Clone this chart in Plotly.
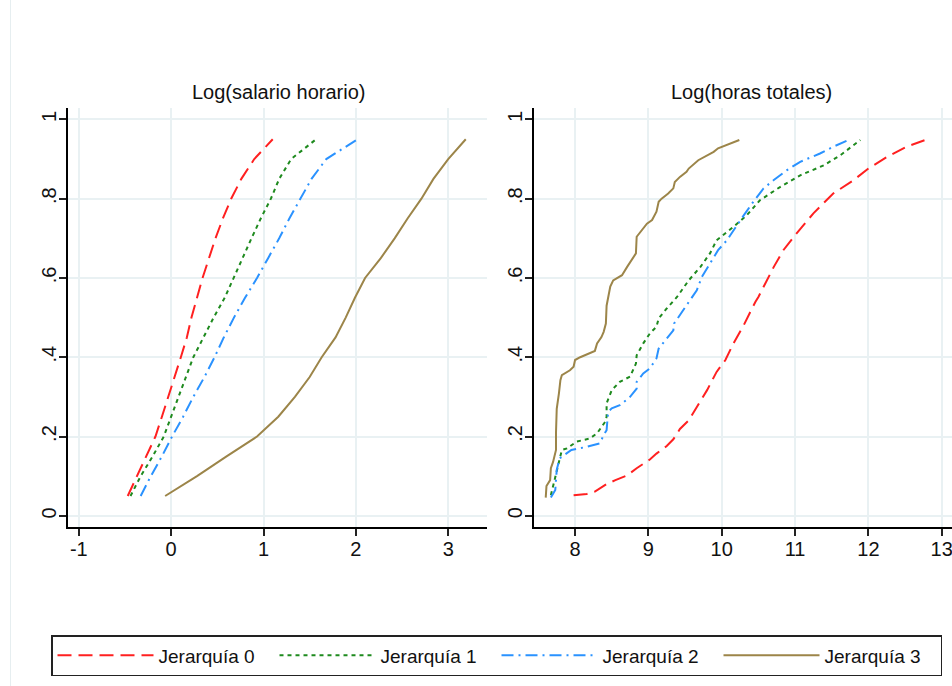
import plotly.graph_objects as go

# Cumulative share (quantile level) shared by the wage curves
prob = [0.05, 0.10, 0.15, 0.20, 0.25, 0.30, 0.35, 0.40, 0.45, 0.50,
        0.55, 0.60, 0.65, 0.70, 0.75, 0.80, 0.85, 0.90, 0.95]

# Log(salario horario) quantiles by hierarchy level
wage_j0 = [-0.47, -0.37, -0.27, -0.17, -0.10, -0.03, 0.04, 0.105, 0.17, 0.22,
           0.28, 0.34, 0.41, 0.48, 0.56, 0.65, 0.76, 0.90, 1.10]
wage_j1 = [-0.44, -0.33, -0.20, -0.08, 0.00, 0.08, 0.16, 0.24, 0.35, 0.46,
           0.58, 0.675, 0.77, 0.87, 0.97, 1.08, 1.17, 1.30, 1.57]
wage_j2 = [-0.33, -0.22, -0.10, 0.01, 0.13, 0.24, 0.36, 0.47, 0.57, 0.68,
           0.80, 0.93, 1.05, 1.17, 1.28, 1.40, 1.52, 1.68, 2.02]
wage_j3 = [-0.065, 0.28, 0.60, 0.93, 1.16, 1.34, 1.50, 1.63, 1.78, 1.89,
           1.99, 2.10, 2.27, 2.42, 2.56, 2.71, 2.84, 3.00, 3.19]

# Log(horas totales): empirical quantile curves (value, cumulative share)
hours_j0_x = [7.98, 8.16, 8.27, 8.43, 8.55, 8.71, 8.84, 9.02, 9.11, 9.25, 9.34,
              9.43, 9.55, 9.66, 9.80, 9.93, 10.05, 10.16, 10.30, 10.46, 10.50,
              10.71, 10.84, 11.00, 11.25, 11.52, 11.80, 12.00, 12.25, 12.52, 12.79]
hours_j0_y = [0.052, 0.055, 0.061, 0.080, 0.090, 0.102, 0.120, 0.142, 0.157, 0.176, 0.193,
              0.219, 0.241, 0.275, 0.317, 0.363, 0.393, 0.435, 0.481, 0.540, 0.552,
              0.628, 0.670, 0.708, 0.763, 0.813, 0.847, 0.876, 0.905, 0.931, 0.949]

hours_j1_x = [7.67, 7.75, 7.79, 7.82, 7.89, 8.02, 8.20, 8.30, 8.41, 8.43, 8.43,
              8.50, 8.61, 8.75, 8.83, 8.84, 8.93, 9.02, 9.11, 9.14, 9.25, 9.35,
              9.39, 9.55, 9.71, 9.84, 9.93, 10.16, 10.34, 10.52, 10.80, 11.07,
              11.39, 11.62, 11.89]
hours_j1_y = [0.052, 0.116, 0.145, 0.166, 0.170, 0.187, 0.195, 0.208, 0.237, 0.250, 0.284,
              0.317, 0.338, 0.351, 0.384, 0.405, 0.435, 0.460, 0.477, 0.498, 0.523, 0.544,
              0.552, 0.594, 0.628, 0.662, 0.695, 0.729, 0.758, 0.796, 0.830, 0.859,
              0.884, 0.910, 0.948]

hours_j2_x = [7.67, 7.73, 7.75, 7.79, 7.82, 7.95, 8.16, 8.34, 8.39, 8.43, 8.45,
              8.50, 8.61, 8.75, 8.84, 8.84, 8.93, 9.02, 9.11, 9.14, 9.25, 9.34,
              9.35, 9.46, 9.55, 9.57, 9.66, 9.73, 9.84, 9.95, 10.07, 10.16, 10.30,
              10.43, 10.57, 10.71, 10.89, 11.07, 11.34, 11.52, 11.73]
hours_j2_y = [0.046, 0.065, 0.116, 0.145, 0.149, 0.166, 0.174, 0.183, 0.204, 0.216, 0.262,
              0.271, 0.279, 0.300, 0.321, 0.338, 0.359, 0.372, 0.397, 0.422, 0.447, 0.468,
              0.485, 0.514, 0.540, 0.544, 0.569, 0.603, 0.637, 0.670, 0.695, 0.721, 0.758,
              0.792, 0.826, 0.847, 0.872, 0.893, 0.914, 0.931, 0.948]

hours_j3_x = [7.60, 7.61, 7.66, 7.67, 7.70, 7.74, 7.74, 7.75, 7.78, 7.80, 7.82,
              7.93, 7.98, 8.00, 8.07, 8.27, 8.30, 8.36, 8.39, 8.42, 8.43, 8.45,
              8.48, 8.52, 8.64, 8.71, 8.77, 8.83, 8.84, 8.89, 8.98, 9.05, 9.11,
              9.14, 9.18, 9.27, 9.34, 9.36, 9.43, 9.52, 9.55, 9.68, 9.89, 9.95,
              10.07, 10.24]
hours_j3_y = [0.046, 0.075, 0.090, 0.120, 0.136, 0.166, 0.210, 0.270, 0.309, 0.342, 0.355,
              0.367, 0.376, 0.393, 0.400, 0.416, 0.435, 0.451, 0.464, 0.485, 0.530, 0.548,
              0.578, 0.594, 0.607, 0.628, 0.645, 0.662, 0.704, 0.716, 0.737, 0.746, 0.767,
              0.792, 0.800, 0.813, 0.826, 0.842, 0.855, 0.868, 0.876, 0.897, 0.918, 0.927,
              0.935, 0.948]

series_names = ["Jerarquía 0", "Jerarquía 1", "Jerarquía 2", "Jerarquía 3"]
y_tickvals = [0, 0.2, 0.4, 0.6, 0.8, 1]
y_ticktext = ["0", ".2", ".4", ".6", ".8", "1"]
left_tickvals = [-1, 0, 1, 2, 3]
left_ticktext = ["-1", "0", "1", "2", "3"]
right_tickvals = [8, 9, 10, 11, 12, 13]
right_ticktext = ["8", "9", "10", "11", "12", "13"]
panel_titles = ["Log(salario horario)", "Log(horas totales)"]

colors = ["#ff2020", "#1e8a1e", "#2a92ff", "#9c8549"]
dashes = ["14px,7px", "4px,4px", "12px,5px,2px,5px", "solid"]

W, H = 952, 686
FONT = "Liberation Sans, Arial, sans-serif"

fig = go.Figure()

left_x = [wage_j0, wage_j1, wage_j2, wage_j3]
for i in range(4):
    fig.add_trace(go.Scatter(
        x=left_x[i], y=prob, mode="lines", name=series_names[i],
        legendgroup=series_names[i],
        line=dict(color=colors[i], width=2, dash=dashes[i]),
        xaxis="x", yaxis="y"))

right_xy = [(hours_j0_x, hours_j0_y), (hours_j1_x, hours_j1_y),
            (hours_j2_x, hours_j2_y), (hours_j3_x, hours_j3_y)]
for i in range(4):
    fig.add_trace(go.Scatter(
        x=right_xy[i][0], y=right_xy[i][1], mode="lines", name=series_names[i],
        legendgroup=series_names[i], showlegend=False,
        line=dict(color=colors[i], width=2, dash=dashes[i]),
        xaxis="x2", yaxis="y2"))

grid_col = "#e9f1f3"
axis_common = dict(
    showline=True, linecolor="#000000", linewidth=1.5,
    ticks="outside", ticklen=7, tickwidth=1.5, tickcolor="#222222",
    showgrid=True, gridcolor=grid_col, gridwidth=1.5,
    zeroline=False, automargin=False, ticklabeloverflow="allow",
    tickfont=dict(family=FONT, size=20, color="#111111"),
)

ydom = [(H - 527.3) / H, (H - 108.3) / H]

fig.update_layout(
    width=W, height=H,
    margin=dict(l=0, r=0, t=0, b=0),
    paper_bgcolor="white", plot_bgcolor="white",
    font=dict(family=FONT, size=19, color="#111111"),
    xaxis=dict(domain=[67.7 / W, 487 / W], range=[-1.12, 3.42],
               tickvals=left_tickvals, ticktext=left_ticktext,
               ticklabelstandoff=-4, anchor="y", **axis_common),
    yaxis=dict(domain=ydom, range=[-0.029, 1.028], tickvals=y_tickvals,
               ticktext=y_ticktext, tickangle=-90, ticklabelstandoff=-5,
               anchor="x", **axis_common),
    xaxis2=dict(domain=[534 / W, 1.0], range=[7.44, 13.14],
                tickvals=right_tickvals, ticktext=right_ticktext,
                ticklabelstandoff=-4, anchor="y2", **axis_common),
    yaxis2=dict(domain=ydom, range=[-0.029, 1.028], tickvals=y_tickvals,
                ticktext=y_ticktext, tickangle=-90, ticklabelstandoff=-5,
                anchor="x2", **axis_common),
    legend=dict(
        orientation="h", x=51 / W, y=(H - 635) / H, xanchor="left", yanchor="top",
        bordercolor="#222222", borderwidth=1.5, bgcolor="white",
        itemwidth=96, entrywidth=111, font=dict(family=FONT, size=19, color="#111111"),
        traceorder="normal",
    ),
    showlegend=True,
)

# panel titles
for txt, cx in zip(panel_titles, [278 / W, 751.5 / W]):
    fig.add_annotation(text=txt, x=cx, y=(H - 92) / H, xref="paper", yref="paper",
                       xanchor="center", yanchor="middle", showarrow=False,
                       font=dict(family=FONT, size=20, color="#111111"))

# faint outer frame line on the left edge
fig.add_shape(type="line", xref="paper", yref="paper", x0=10.5 / W, x1=10.5 / W,
              y0=0, y1=1, line=dict(color="#e6eef0", width=1))

fig.write_html("out.html")
